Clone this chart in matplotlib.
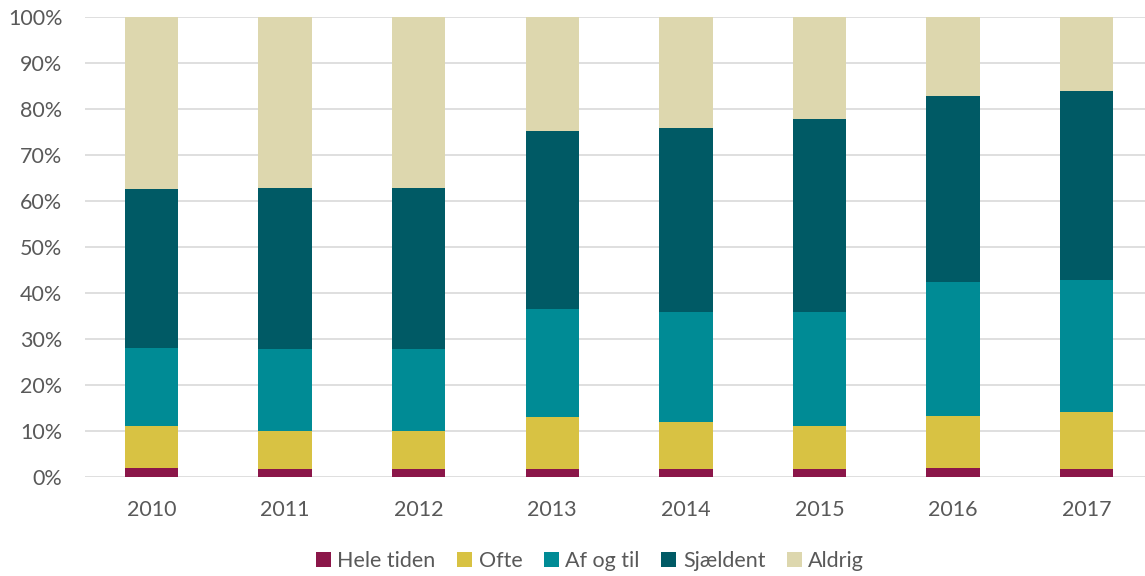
import matplotlib
matplotlib.use("Agg")
import matplotlib.pyplot as plt
import numpy as np
from matplotlib.patches import Patch

years = ["2010", "2011", "2012", "2013", "2014", "2015", "2016", "2017"]
hele_tiden = [2.0, 1.8, 1.8, 1.8, 1.8, 1.8, 2.0, 1.8]
ofte = [9.1, 8.2, 8.2, 11.2, 10.3, 9.3, 11.3, 12.4]
af_og_til = [17.0, 17.9, 17.9, 23.5, 23.8, 24.8, 29.0, 28.7]
sjaeldent = [34.4, 34.9, 34.9, 38.6, 39.9, 41.9, 40.4, 40.9]
aldrig = [37.5, 37.2, 37.2, 24.9, 24.2, 22.2, 17.3, 16.2]

series = [
    ("Hele tiden", hele_tiden, "#8B1649"),
    ("Ofte", ofte, "#D8C243"),
    ("Af og til", af_og_til, "#008B95"),
    ("Sjældent", sjaeldent, "#005A65"),
    ("Aldrig", aldrig, "#DDD7AE"),
]

plt.rcParams['font.family'] = ['Lato', 'DejaVu Sans']
txt = "#595959"

fig = plt.figure(figsize=(11.45, 5.76), dpi=100)
W, H = 1145, 576
left, right = 84.6, 1153.5
top, bottom = 16.7, 477.3
ax = fig.add_axes([left / W, (H - bottom) / H, (right - left) / W, (bottom - top) / H])

x = np.arange(len(years))
base = np.zeros(len(years))
for name, vals, col in series:
    v = np.array(vals)
    ax.bar(x, v, bottom=base, width=0.4, color=col, label=name, zorder=3)
    base += v

ax.set_xlim(-0.5, len(years) - 0.5)
ax.set_ylim(0, 100)
ax.set_yticks(np.arange(0, 101, 10))
ax.set_yticklabels([f"{t}%" for t in range(0, 101, 10)])
ax.set_xticks(x)
ax.set_xticklabels(years)
ax.yaxis.grid(True, color="#D9D9D9", linewidth=1.2, zorder=0)
ax.set_axisbelow(True)
for s in ax.spines.values():
    s.set_visible(False)
ax.tick_params(axis="both", length=0, labelsize=15.5, colors=txt)
ax.tick_params(axis="y", pad=16)
ax.tick_params(axis="x", pad=16)

handles = [Patch(facecolor=c, label=n) for n, _, c in series]
fig.legend(handles=handles, loc="center", bbox_to_anchor=(590 / W, (H - 561) / H),
           ncol=5, frameon=False, fontsize=15.5, labelcolor=txt,
           handlelength=0.7, handleheight=0.7, handletextpad=0.3, columnspacing=1.0)

fig.savefig("out.png", dpi=100)
